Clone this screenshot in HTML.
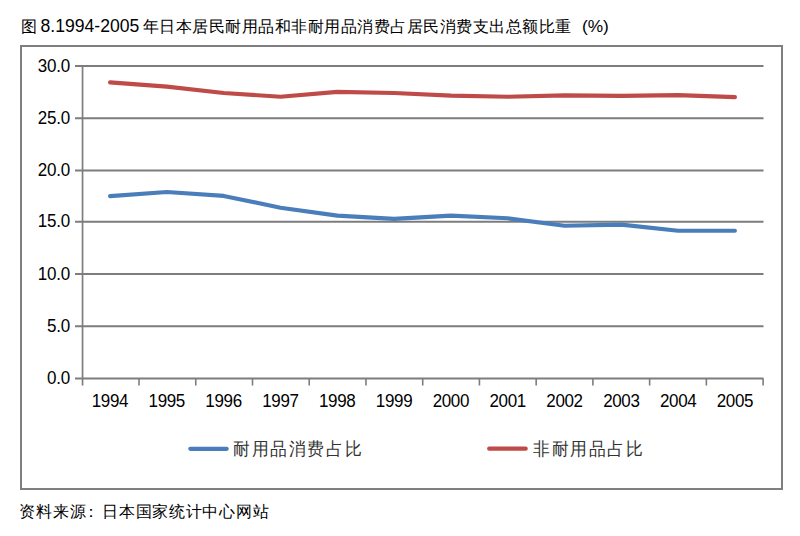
<!DOCTYPE html>
<html><head><meta charset="utf-8">
<style>
html,body{margin:0;padding:0;background:#fff;width:800px;height:536px;overflow:hidden;position:relative}
.t{position:absolute;font-family:"Liberation Sans",sans-serif;color:#000;white-space:nowrap;line-height:17px}
.box{position:absolute;left:20px;top:45px;width:759px;height:441px;border:2px solid #7f7f7f}
svg{position:absolute;left:0;top:0}
</style></head><body>
<div class="box"></div>
<svg width="800" height="536" viewBox="0 0 800 536">
 <g stroke="#7d7d7d" stroke-width="2" fill="none">
  <line x1="75" y1="66.00" x2="763.50" y2="66.00"/>
  <line x1="75" y1="118.25" x2="763.50" y2="118.25"/>
  <line x1="75" y1="170.48" x2="763.50" y2="170.48"/>
  <line x1="75" y1="221.70" x2="763.50" y2="221.70"/>
  <line x1="75" y1="274.00" x2="763.50" y2="274.00"/>
  <line x1="75" y1="326.25" x2="763.50" y2="326.25"/>
  <line x1="75" y1="378.45" x2="763.50" y2="378.45"/>
  <line x1="82.55" y1="65" x2="82.55" y2="385.6" stroke-width="1.7"/>
  <path d="M139.03 378.40V385.6 M195.77 378.40V385.6 M252.50 378.40V385.6 M309.23 378.40V385.6 M365.97 378.40V385.6 M422.70 378.40V385.6 M479.43 378.40V385.6 M536.17 378.40V385.6 M592.90 378.40V385.6 M649.63 378.40V385.6 M706.37 378.40V385.6 M763.10 378.40V385.6" stroke-width="1.6"/>
 </g>
 <polyline fill="none" stroke="#BE4B48" stroke-width="4.2" stroke-linecap="round" stroke-linejoin="round" points="110.10,82.37 166.90,86.54 223.70,93.00 280.50,96.75 337.30,91.85 394.10,93.00 450.90,95.60 507.70,96.75 564.50,95.29 621.30,95.81 678.10,95.18 734.90,97.16"/>
 <polyline fill="none" stroke="#4A7EBB" stroke-width="4.2" stroke-linecap="round" stroke-linejoin="round" points="110.10,196.05 166.90,191.99 223.70,195.95 280.50,207.72 337.30,215.64 394.10,218.97 450.90,215.54 507.70,218.24 564.50,225.75 621.30,224.60 678.10,230.75 734.90,230.75"/>
 <line x1="190.3" y1="448.8" x2="226.7" y2="448.8" stroke="#4A7EBB" stroke-width="4.2" stroke-linecap="round"/>
 <line x1="489.2" y1="448.7" x2="525.7" y2="448.7" stroke="#BE4B48" stroke-width="4.2" stroke-linecap="round"/>
</svg>
<div class="t" style="left:21px;top:18px;font-size:16px;">图</div>
<div class="t" style="left:40.5px;top:16.5px;font-size:17.6px;transform:scaleY(1.06);transform-origin:0 0">8.1994-2005</div>
<div class="t" style="left:142.6px;top:17.6px;font-size:16px;letter-spacing:0.5px">年日本居民耐用品和非耐用品消费占居民消费支出总额比重</div>
<div class="t" style="left:582px;top:18.3px;font-size:17.3px;">(%)</div>
<div class="t" style="left:233px;top:440.3px;font-size:17px;letter-spacing:1.6px;color:#333;transform:scaleY(1.07);transform-origin:0 0">耐用品消费占比</div>
<div class="t" style="left:533px;top:440.3px;font-size:17px;letter-spacing:1.6px;color:#333;transform:scaleY(1.07);transform-origin:0 0">非耐用品占比</div>
<div class="t" style="left:19px;top:503px;font-size:16px;letter-spacing:1.1px">资料来源</div>
<div class="t" style="left:83px;top:503px;font-size:16px;">：</div>
<div class="t" style="left:102.3px;top:503px;font-size:16px;letter-spacing:0.7px">日本国家统计中心网站</div>
<div class="t r" style="right:729.90px;top:57.85px;font-size:17px;letter-spacing:-0.2px;transform:scaleY(1.05);transform-origin:0 50%">30.0</div>
<div class="t r" style="right:729.90px;top:110.20px;font-size:17px;letter-spacing:-0.2px;transform:scaleY(1.05);transform-origin:0 50%">25.0</div>
<div class="t r" style="right:729.90px;top:162.05px;font-size:17px;letter-spacing:-0.2px;transform:scaleY(1.05);transform-origin:0 50%">20.0</div>
<div class="t r" style="right:729.90px;top:213.45px;font-size:17px;letter-spacing:-0.2px;transform:scaleY(1.05);transform-origin:0 50%">15.0</div>
<div class="t r" style="right:729.90px;top:266.00px;font-size:17px;letter-spacing:-0.2px;transform:scaleY(1.05);transform-origin:0 50%">10.0</div>
<div class="t r" style="right:729.90px;top:317.75px;font-size:17px;letter-spacing:-0.2px;transform:scaleY(1.05);transform-origin:0 50%">5.0</div>
<div class="t r" style="right:729.90px;top:370.25px;font-size:17px;letter-spacing:-0.2px;transform:scaleY(1.05);transform-origin:0 50%">0.0</div>
<div class="t" style="left:69.77px;width:80px;text-align:center;top:392.2px;font-size:17px;letter-spacing:-0.35px;text-indent:0.35px;transform:scaleY(1.04);transform-origin:0 0">1994</div>
<div class="t" style="left:126.59px;width:80px;text-align:center;top:392.2px;font-size:17px;letter-spacing:-0.35px;text-indent:0.35px;transform:scaleY(1.04);transform-origin:0 0">1995</div>
<div class="t" style="left:183.41px;width:80px;text-align:center;top:392.2px;font-size:17px;letter-spacing:-0.35px;text-indent:0.35px;transform:scaleY(1.04);transform-origin:0 0">1996</div>
<div class="t" style="left:240.24px;width:80px;text-align:center;top:392.2px;font-size:17px;letter-spacing:-0.35px;text-indent:0.35px;transform:scaleY(1.04);transform-origin:0 0">1997</div>
<div class="t" style="left:297.06px;width:80px;text-align:center;top:392.2px;font-size:17px;letter-spacing:-0.35px;text-indent:0.35px;transform:scaleY(1.04);transform-origin:0 0">1998</div>
<div class="t" style="left:353.88px;width:80px;text-align:center;top:392.2px;font-size:17px;letter-spacing:-0.35px;text-indent:0.35px;transform:scaleY(1.04);transform-origin:0 0">1999</div>
<div class="t" style="left:410.71px;width:80px;text-align:center;top:392.2px;font-size:17px;letter-spacing:-0.35px;text-indent:0.35px;transform:scaleY(1.04);transform-origin:0 0">2000</div>
<div class="t" style="left:467.53px;width:80px;text-align:center;top:392.2px;font-size:17px;letter-spacing:-0.35px;text-indent:0.35px;transform:scaleY(1.04);transform-origin:0 0">2001</div>
<div class="t" style="left:524.35px;width:80px;text-align:center;top:392.2px;font-size:17px;letter-spacing:-0.35px;text-indent:0.35px;transform:scaleY(1.04);transform-origin:0 0">2002</div>
<div class="t" style="left:581.18px;width:80px;text-align:center;top:392.2px;font-size:17px;letter-spacing:-0.35px;text-indent:0.35px;transform:scaleY(1.04);transform-origin:0 0">2003</div>
<div class="t" style="left:638.00px;width:80px;text-align:center;top:392.2px;font-size:17px;letter-spacing:-0.35px;text-indent:0.35px;transform:scaleY(1.04);transform-origin:0 0">2004</div>
<div class="t" style="left:694.82px;width:80px;text-align:center;top:392.2px;font-size:17px;letter-spacing:-0.35px;text-indent:0.35px;transform:scaleY(1.04);transform-origin:0 0">2005</div>
</body></html>
